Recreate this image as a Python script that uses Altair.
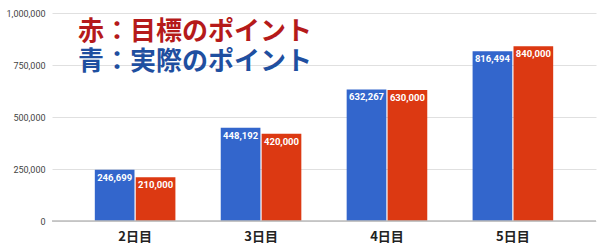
import altair as alt
import pandas as pd

days = ["2日目", "3日目", "4日目", "5日目"]
actual = [246699, 448192, 632267, 816494]
target = [210000, 420000, 630000, 840000]
series = ["実際", "目標"]
colors = ["#3366cc", "#dc3912"]
y_ticks = [0, 250000, 500000, 750000, 1000000]

rows = []
for d, a, t in zip(days, actual, target):
    rows.append({"day": d, "series": series[0], "value": a})
    rows.append({"day": d, "series": series[1], "value": t})
df = pd.DataFrame(rows)

x = alt.X("day:N", sort=days, title=None,
          scale=alt.Scale(paddingInner=0.36, paddingOuter=0.34),
          axis=alt.Axis(labelAngle=0, labelFont="Noto Sans CJK JP", labelFontSize=13,
                        labelFontWeight="bold", labelColor="#222222", ticks=False,
                        domain=False, labelPadding=9))
xo = alt.XOffset("series:N", sort=series, scale=alt.Scale(paddingInner=0.03))
y = alt.Y("value:Q", title=None,
          scale=alt.Scale(domain=[0, 1000000], nice=False),
          axis=alt.Axis(values=y_ticks, format=",d", labelFont="Roboto", labelFontSize=9,
                        labelColor="#444444", ticks=False, domain=False, labelPadding=7,
                        gridColor="#e0e0e0"))

base = alt.Chart(df)
bars = base.mark_bar().encode(
    x=x, xOffset=xo, y=y,
    color=alt.Color("series:N", sort=series, scale=alt.Scale(domain=series, range=colors), legend=None),
)
labels = base.mark_text(baseline="top", dy=3, color="white", font="Roboto",
                        fontSize=9.5, fontWeight="bold").encode(
    x=x, xOffset=xo, y=y, text=alt.Text("value:Q", format=",d"),
)
zero = alt.Chart(pd.DataFrame({"v": [0]})).mark_rule(color="#bbbbbb", strokeWidth=1.5).encode(
    y=alt.Y("v:Q")
)

chart = alt.layer(bars, labels, zero).properties(
    width=544, height=208,
    autosize=alt.AutoSizeParams(type="none"),
    padding={"left": 52, "top": 13, "right": 4, "bottom": 28},
    title=alt.TitleParams(
        text="赤：目標のポイント", subtitle="青：実際のポイント",
        anchor="start", frame="group", orient="top", baseline="top",
        font="Noto Sans CJK JP", fontSize=26, fontWeight="bold", color="#b51a1a",
        subtitleFont="Noto Sans CJK JP", subtitleFontSize=26, subtitleFontWeight="bold",
        subtitleColor="#1f4fa0", subtitlePadding=4, dx=26, dy=66, offset=0,
    ),
).configure_view(stroke=None)

chart.save("out.html", embed_options={"renderer": "svg", "actions": False})
